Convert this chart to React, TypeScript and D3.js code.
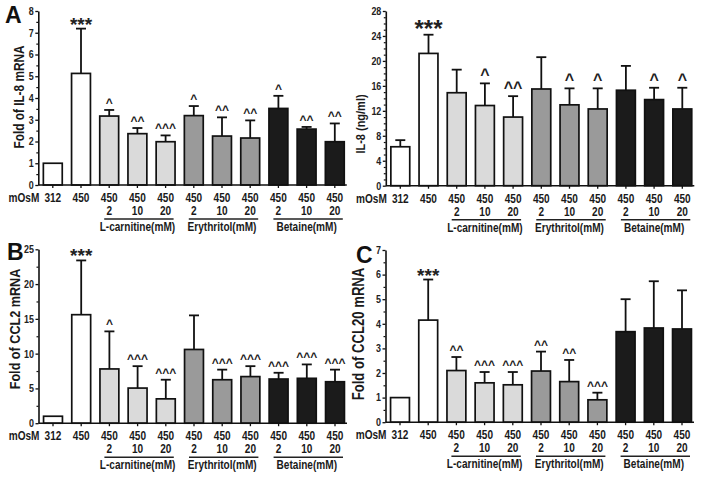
import React, { useEffect, useRef } from 'react';
import * as d3 from 'd3';

// x categories (osmolarity, mOsM) and the compound dose under them
const osmolarity = ['312', '450', '450', '450', '450', '450', '450', '450', '450', '450', '450'];
const doses = ['', '', '2', '10', '20', '2', '10', '20', '2', '10', '20'];
const treatment = ['control', 'control', 'L-carnitine', 'L-carnitine', 'L-carnitine', 'Erythritol', 'Erythritol', 'Erythritol', 'Betaine', 'Betaine', 'Betaine'];
const compounds = ['L-carnitine', 'Erythritol', 'Betaine'];

// A: fold of IL-8 mRNA
const il8mRNAMean = [1.0, 5.13, 3.17, 2.36, 1.99, 3.19, 2.25, 2.16, 3.52, 2.57, 1.99];
const il8mRNASd = [0, 2.06, 0.28, 0.26, 0.29, 0.44, 0.86, 0.81, 0.58, 0.1, 0.84];
const il8mRNASig = ['', '***', '^', '^^', '^^^', '^', '^^', '^^', '^', '^^', '^^'];

// IL-8 protein (ng/ml)
const il8ProteinMean = [6.24, 21.2, 14.9, 12.85, 11.0, 15.5, 12.96, 12.3, 15.3, 13.8, 12.3];
const il8ProteinSd = [1.06, 3.0, 3.7, 3.55, 3.35, 5.1, 2.64, 3.3, 3.9, 1.9, 3.4];
const il8ProteinSig = ['', '***', '', '^', '^^', '', '^', '^', '', '^', '^'];

// B: fold of CCL2 mRNA
const ccl2Mean = [1.0, 15.6, 7.8, 5.05, 3.5, 10.6, 6.25, 6.7, 6.35, 6.45, 5.96];
const ccl2Sd = [0, 7.8, 5.4, 3.15, 2.75, 4.9, 1.45, 1.5, 0.9, 2.0, 1.74];
const ccl2Sig = ['', '***', '^', '^^^', '^^^', '', '^^^', '^^^', '^^^', '^^^', '^^^'];

// C: fold of CCL20 mRNA
const ccl20Mean = [1.0, 4.15, 2.1, 1.6, 1.52, 2.08, 1.65, 0.91, 3.68, 3.83, 3.79];
const ccl20Sd = [0, 1.65, 0.55, 0.44, 0.52, 0.79, 0.88, 0.29, 1.32, 1.9, 1.57];
const ccl20Sig = ['', '***', '^^', '^^^', '^^^', '^^', '^^', '^^^', '', '', ''];

const fills: Record<string, string> = {
    control: '#ffffff',
    'L-carnitine': '#dadada',
    Erythritol: '#9a9a9a',
    Betaine: '#1b1b1b',
};

const FONT = "'Liberation Sans', Arial, sans-serif";
const NARROW = 0.82; // the figure uses a condensed Arial

const panels = [
    {
        letter: 'A', title: 'Fold of IL-8 mRNA', mean: il8mRNAMean, sd: il8mRNASd, sig: il8mRNASig,
        yMax: 8, major: 1, minor: 0.5, axisX: 38.3, top: 11, bottom: 185,
        titleX: 19, titleY: 97, titleSize: 14.4, letterX: 5, letterY: 23, starSize: 19, caretSize: 12,
    },
    {
        letter: '', title: 'IL-8 (ng/ml)', mean: il8ProteinMean, sd: il8ProteinSd, sig: il8ProteinSig,
        yMax: 28, major: 4, minor: 1, axisX: 385.8, top: 11, bottom: 185.7,
        titleX: 360.5, titleY: 124, titleSize: 13.4, letterX: 0, letterY: 0, starSize: 24, caretSize: 16,
    },
    {
        letter: 'B', title: 'Fold of CCL2 mRNA', mean: ccl2Mean, sd: ccl2Sd, sig: ccl2Sig,
        yMax: 25, major: 5, minor: 2.5, axisX: 38.5, top: 249.3, bottom: 423.2,
        titleX: 14.5, titleY: 329, titleSize: 15.4, letterX: 7, letterY: 260, starSize: 19, caretSize: 12,
    },
    {
        letter: 'C', title: 'Fold of CCL20 mRNA', mean: ccl20Mean, sd: ccl20Sd, sig: ccl20Sig,
        yMax: 7, major: 1, minor: 0.5, axisX: 385.5, top: 250, bottom: 422.2,
        titleX: 358.5, titleY: 334, titleSize: 16, letterX: 356, letterY: 263, starSize: 19, caretSize: 12,
    },
];

// condensed bold label placed at (x, y)
function label(g, x, y, text, size = 12.3, anchor = 'middle', rotate = 0) {
    return g.append('text')
        .attr('transform', `translate(${x},${y})${rotate ? ` rotate(${rotate})` : ''} scale(${NARROW},1)`)
        .attr('text-anchor', anchor)
        .attr('font-family', FONT)
        .attr('font-weight', 'bold')
        .attr('font-size', size)
        .attr('fill', '#1a1a1a')
        .text(text);
}

function drawPanel(svg, p) {
    const g = svg.append('g');
    const n = osmolarity.length;
    const step = 28.2;
    const c0 = p.axisX + 14.5;
    const idx = d3.range(n);

    const x = d3.scaleBand()
        .domain(idx)
        .range([c0 - step / 2, c0 + (n - 1) * step + step / 2])
        .paddingInner(0.33)
        .paddingOuter(0.165);
    const cx = i => x(i) + x.bandwidth() / 2;

    const y = d3.scaleLinear().domain([0, p.yMax]).range([p.bottom, p.top]);

    // bars
    g.append('g')
        .selectAll('rect')
        .data(idx)
        .join('rect')
        .attr('x', i => x(i))
        .attr('y', i => y(p.mean[i]))
        .attr('width', x.bandwidth())
        .attr('height', i => y(0) - y(p.mean[i]))
        .attr('fill', i => fills[treatment[i]])
        .attr('stroke', '#111')
        .attr('stroke-width', 1.7);

    // upper error bars
    const err = g.append('g').attr('stroke', '#111').attr('stroke-width', 1.8);
    idx.filter(i => p.sd[i] > 0).forEach(i => {
        err.append('line')
            .attr('x1', cx(i)).attr('x2', cx(i))
            .attr('y1', y(p.mean[i])).attr('y2', y(p.mean[i] + p.sd[i]));
        err.append('line')
            .attr('x1', cx(i) - 5).attr('x2', cx(i) + 5)
            .attr('y1', y(p.mean[i] + p.sd[i])).attr('y2', y(p.mean[i] + p.sd[i]));
    });

    // significance marks
    idx.filter(i => p.sig[i]).forEach(i => {
        const star = p.sig[i].startsWith('*');
        const capY = y(p.mean[i] + p.sd[i]);
        g.append('text')
            .attr('x', cx(i))
            .attr('y', star ? capY + 2 : capY - 3)
            .attr('text-anchor', 'middle')
            .attr('font-family', FONT)
            .attr('font-weight', 'bold')
            .attr('font-size', star ? p.starSize : p.caretSize)
            .attr('fill', '#222')
            .text(p.sig[i]);
    });

    // y axis
    const yAxis = g.append('g')
        .attr('transform', `translate(${p.axisX},0)`)
        .call(d3.axisLeft(y)
            .tickValues(d3.range(0, p.yMax + 1e-9, p.major))
            .tickSize(3)
            .tickSizeOuter(0)
            .tickFormat(d3.format('d')));
    yAxis.select('.domain').attr('stroke', '#111').attr('stroke-width', 1.6);
    yAxis.selectAll('.tick line').attr('stroke', '#111').attr('stroke-width', 1.3);
    yAxis.selectAll('text')
        .attr('x', -4.5 / 0.85)
        .attr('transform', 'scale(0.85,1)')
        .attr('font-family', FONT)
        .attr('font-weight', 'bold')
        .attr('font-size', 10.5)
        .attr('fill', '#222');

    const minors = d3.range(0, p.yMax + 1e-9, p.minor).filter(v => Math.abs(v / p.major - Math.round(v / p.major)) > 1e-6);
    g.append('g')
        .attr('transform', `translate(${p.axisX},0)`)
        .call(d3.axisLeft(y).tickValues(minors).tickSize(2).tickFormat(() => ''))
        .call(a => a.select('.domain').remove())
        .selectAll('.tick line').attr('stroke', '#111').attr('stroke-width', 1.2);

    // x axis
    const xAxis = g.append('g')
        .attr('transform', `translate(0,${p.bottom})`)
        .call(d3.axisBottom(x).tickSize(3).tickSizeOuter(0).tickFormat(() => ''));
    xAxis.select('.domain').attr('stroke', '#111').attr('stroke-width', 1.6)
        .attr('d', `M${p.axisX},0H${cx(n - 1) + 12}`);
    xAxis.selectAll('.tick line').attr('stroke', '#111').attr('stroke-width', 1.3);

    label(g, p.axisX + 1, p.bottom + 17, 'mOsM', 12.3, 'end');
    idx.forEach(i => {
        label(g, cx(i), p.bottom + 17, osmolarity[i]);
        if (doses[i]) label(g, cx(i), p.bottom + 30, doses[i]);
    });

    // compound groups
    compounds.forEach(c => {
        const members = idx.filter(i => treatment[i] === c);
        const first = cx(members[0]);
        const last = cx(members[members.length - 1]);
        g.append('line')
            .attr('x1', first - 5).attr('x2', last + 8)
            .attr('y1', p.bottom + 34).attr('y2', p.bottom + 34)
            .attr('stroke', '#222').attr('stroke-width', 1.4);
        label(g, (first + last) / 2, p.bottom + 46, `${c}(mM)`);
    });

    // y title
    label(g, p.titleX, p.titleY, p.title, p.titleSize, 'middle', -90)
        .attr('dominant-baseline', 'central');

    if (p.letter) {
        g.append('text')
            .attr('x', p.letterX)
            .attr('y', p.letterY)
            .attr('font-family', FONT)
            .attr('font-weight', 'bold')
            .attr('font-size', 23)
            .attr('fill', '#111')
            .text(p.letter);
    }
}

export default function App() {
    const ref = useRef(null);

    useEffect(() => {
        const svg = d3.select(ref.current);
        svg.selectAll('*').remove();
        svg.append('rect').attr('width', 704).attr('height', 479).attr('fill', '#fff');
        panels.forEach(p => drawPanel(svg, p));
    }, []);

    return (
        <svg
            ref={ref}
            width={704}
            height={479}
            style={{ position: 'absolute', left: 0, top: 0, background: '#fff' }}
        />
    );
}
